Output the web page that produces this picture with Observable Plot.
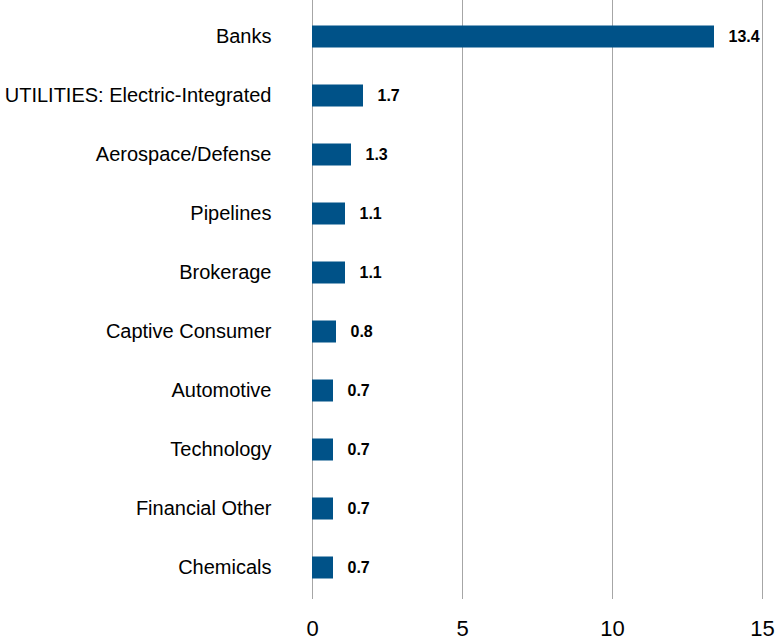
<!DOCTYPE html>
<html lang="en">
<head>
<meta charset="UTF-8">
<script src="https://cdn.jsdelivr.net/npm/d3@7"></script>
<script src="https://cdn.jsdelivr.net/npm/@observablehq/plot@0.6"></script>
<style>
  body { margin: 0; background: #fff; }
</style>
</head>
<body>
<div id="plot"></div>
<script>
const categories = ["Banks", "UTILITIES: Electric-Integrated", "Aerospace/Defense", "Pipelines", "Brokerage",
  "Captive Consumer", "Automotive", "Technology", "Financial Other", "Chemicals"];
const values = [13.4, 1.7, 1.3, 1.1, 1.1, 0.8, 0.7, 0.7, 0.7, 0.7];
const xTicks = [0, 5, 10, 15];

const data = categories.map((c, i) => ({category: c, value: values[i]}));

const plot = Plot.plot({
  width: 777,
  height: 642,
  marginLeft: 312,
  marginRight: 15,
  marginTop: 4,
  marginBottom: 43,
  style: {fontFamily: "Liberation Sans, Arial, sans-serif", background: "#fff"},
  x: {domain: [0, 15], ticks: xTicks, label: null},
  y: {domain: categories, padding: 0, label: null},
  marks: [
    Plot.gridX(xTicks, {stroke: "#a6a6a6", strokeOpacity: 1, strokeWidth: 1, insetTop: -4}),
    Plot.barX(data, {x: "value", y: "category", fill: "#005288", insetTop: 18.5, insetBottom: 18.5}),
    Plot.text(data, {x: "value", y: "category", text: d => d.value.toFixed(1), dx: 14, textAnchor: "start",
      fontWeight: "bold", fontSize: 16, fill: "#000"}),
    Plot.axisY({tickSize: 0, tickPadding: 41, fontSize: 20, fill: "#000"}),
    Plot.axisX({tickSize: 0, tickPadding: 21, fontSize: 22, fill: "#000", ticks: xTicks})
  ]
});
document.getElementById("plot").append(plot);
</script>
</body>
</html>
